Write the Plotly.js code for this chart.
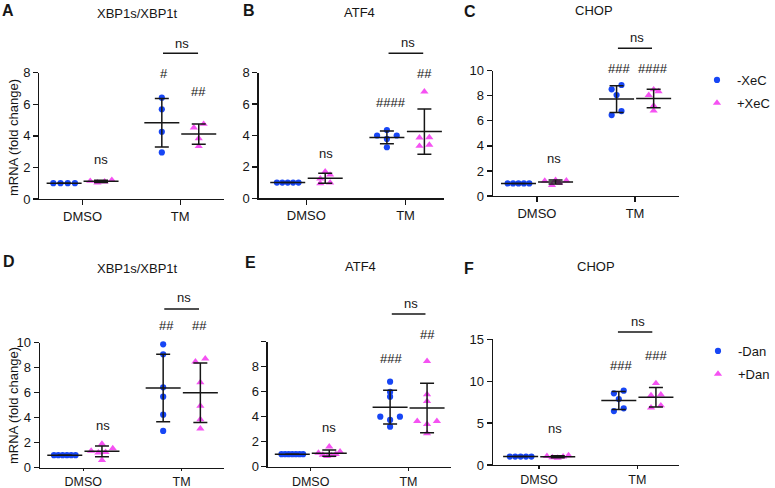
<!DOCTYPE html>
<html><head><meta charset="utf-8">
<script src="https://cdn.plot.ly/plotly-3.0.1.min.js"></script>
<style>html,body{margin:0;padding:0;background:#fff}#chart{width:775px;height:488px}</style>
</head><body><div id="chart"></div>
<script>
// ---------------- DATA ----------------
const categories = ['DMSO', 'TM'];
const topSeries = ['-XeC', '+XeC'];
const bottomSeries = ['-Dan', '+Dan'];
const panelLetters = ['A', 'B', 'C', 'D', 'E', 'F'];
const panelTitles = ['XBP1s/XBP1t', 'ATF4', 'CHOP', 'XBP1s/XBP1t', 'ATF4', 'CHOP'];
const yAxisTitle = 'mRNA (fold change)';

// Panel A: XBP1s/XBP1t, -XeC / +XeC
const aDmsoMinus = [1, 1, 1, 1];
const aDmsoPlus = [1.04, 1.2, 1.1, 1.14];
const aTmMinus = [6.42, 5.68, 4.26, 2.95];
const aTmPlus = [4.52, 4.75, 3.84, 3.34];
const aSig = ['ns', '#', '##', 'ns'];

// Panel B: ATF4, -XeC / +XeC
const bDmsoMinus = [1, 1, 1, 1, 1];
const bDmsoPlus = [1.7, 1.5, 1.25, 1.0, 0.95];
const bTmMinus = [4.35, 4.0, 4.0, 3.78, 3.25];
const bTmPlus = [6.79, 3.88, 3.86, 3.40, 3.33];
const bSig = ['ns', '####', '##', 'ns'];

// Panel C: CHOP, -XeC / +XeC
const cDmsoMinus = [1, 1, 1, 1, 1];
const cDmsoPlus = [1.26, 1.22, 1.05, 1.21, 0.87];
const cTmMinus = [8.86, 8.51, 8.06, 6.78, 6.46];
const cTmPlus = [8.5, 8.35, 8.05, 7.2, 6.8];
const cSig = ['ns', '###', '####', 'ns'];

// Panel D: XBP1s/XBP1t, -Dan / +Dan
const dDmsoMinus = [1, 1, 1, 1, 1, 1];
const dDmsoPlus = [1.9, 1.55, 1.35, 1.25, 1.2, 0.6];
const dTmMinus = [9.87, 9.07, 6.43, 5.68, 4.24, 2.94];
const dTmPlus = [8.72, 8.48, 6.83, 4.94, 3.87, 3.12];
const dSig = ['ns', '##', '##', 'ns'];

// Panel E: ATF4, -Dan / +Dan
const eDmsoMinus = [1, 1, 1, 1, 1, 1, 1];
const eDmsoPlus = [1.6, 1.2, 1.1, 1.0, 0.9, 0.85, 0.95];
const eTmMinus = [6.8, 5.98, 5.6, 4.0, 4.0, 3.74, 3.2];
const eTmPlus = [8.45, 5.79, 5.25, 3.65, 3.65, 3.41, 2.67];
const eSig = ['ns', '###', '##', 'ns'];

// Panel F: CHOP, -Dan / +Dan
const fDmsoMinus = [1, 1, 1, 1, 1];
const fDmsoPlus = [0.85, 1.15, 1.0, 1.05, 0.9];
const fTmMinus = [8.87, 8.55, 7.87, 6.76, 6.44];
const fTmPlus = [9.75, 8.4, 8.3, 7.1, 6.85];
const fSig = ['ns', '###', '###', 'ns'];

// y-axis ticks
const yTicks8 = [0, 2, 4, 6, 8];
const yTicks10 = [0, 2, 4, 6, 8, 10];
const yTicksE = [0, 2, 4, 6, 8, 10];
const yTickTextE = ['0', '2', '4', '6', '8', ''];
const yTicks15 = [0, 5, 10, 15];

// ---------------- LAYOUT / STYLE ----------------
const W = 775, H = 488;
const PX = v => v / W;
const PY = v => 1 - v / H;
const FONT = 'Liberation Sans, Arial, Helvetica, sans-serif';
const INK = '#161616';
const BLUE = '#1746f5';
const PINK = '#f552f2';

const panels = [
  {vals: [aDmsoMinus, aDmsoPlus, aTmMinus, aTmPlus], sig: aSig, ticks: yTicks8, tickText: yTicks8.map(String), ymax: 8,
   x0: 40, x1: 228, cD: 84, cT: 183.5, yTop: 72.7, yBot: 199, series: topSeries, legend: 'legend', showLeg: false, xlen: 5, xfs: 13,
   title: [140, 13], letter: [8.5, 10.5], nsD: [103, 160], sigM: [167, 73], sigP: [202.5, 91.2], nsT: [185.8, 43], bar: [166, 201.7, 53.3]},
  {vals: [bDmsoMinus, bDmsoPlus, bTmMinus, bTmPlus], sig: bSig, ticks: yTicks8, tickText: yTicks8.map(String), ymax: 8,
   x0: 263.3, x1: 451.7, cD: 312, cT: 413, yTop: 72.7, yBot: 198.3, series: topSeries, legend: 'legend', showLeg: false, xlen: 5, xfs: 13,
   title: [366, 12], letter: [254, 10.5], nsD: [331.7, 153], sigM: [397.8, 102.3], sigP: [432, 73], nsT: [415.5, 42.6], bar: [395.7, 431, 53.3]},
  {vals: [cDmsoMinus, cDmsoPlus, cTmMinus, cTmPlus], sig: cSig, ticks: yTicks10, tickText: yTicks10.map(String), ymax: 10,
   x0: 502, x1: 691.7, cD: 546.8, cT: 646.7, yTop: 70.7, yBot: 196, series: topSeries, legend: 'legend', showLeg: true, xlen: 5, xfs: 13,
   title: [605, 10.5], letter: [479, 11], nsD: [564, 158.3], sigM: [630.5, 68.3], sigP: [664.7, 68.3], nsT: [649.2, 37.5], bar: [629.3, 664, 48.3]},
  {vals: [dDmsoMinus, dDmsoPlus, dTmMinus, dTmPlus], sig: dSig, ticks: yTicks10, tickText: yTicks10.map(String), ymax: 10,
   x0: 40.7, x1: 228, cD: 84.8, cT: 185, yTop: 342.7, yBot: 467.7, series: bottomSeries, legend: 'legend2', showLeg: false, xlen: 2, xfs: 12.5,
   title: [140.5, 268], letter: [8.7, 261], nsD: [105, 425.5], sigM: [169.2, 325.8], sigP: [202.8, 325.8], nsT: [187.2, 297.8], bar: [167.3, 202.7, 309]},
  {vals: [eDmsoMinus, eDmsoPlus, eTmMinus, eTmPlus], sig: eSig, ticks: yTicksE, tickText: yTickTextE, ymax: 10,
   x0: 272.7, x1: 459, cD: 316.4, cT: 416, yTop: 341.7, yBot: 466.7, series: bottomSeries, legend: 'legend2', showLeg: false, xlen: 3, xfs: 12.5,
   title: [367.5, 266.7], letter: [255, 262], nsD: [335, 427], sigM: [397.8, 358], sigP: [435.5, 334.7], nsT: [418.8, 303], bar: [399, 433.3, 314]},
  {vals: [fDmsoMinus, fDmsoPlus, fTmMinus, fTmPlus], sig: fSig, ticks: yTicks15, tickText: yTicks15.map(String), ymax: 15,
   x0: 502, x1: 691.7, cD: 549, cT: 649, yTop: 339.3, yBot: 465, series: bottomSeries, legend: 'legend2', showLeg: true, xlen: 3, xfs: 12.5,
   title: [607, 266.7], letter: [478, 268], nsD: [565, 428], sigM: [632.2, 365.8], sigP: [667.7, 355], nsT: [649.3, 321], bar: [629.3, 664.3, 332]}
];

const SUB = [-0.188, 0.19];   // sub-column offset (x units) for minus / plus
const TOL = 4.6, MAXSTEP = 10, SPAN = 22;

function mean(a) { return a.reduce((s, v) => s + v, 0) / a.length; }
function sd(a) { const m = mean(a); return Math.sqrt(a.reduce((s, v) => s + (v - m) * (v - m), 0) / (a.length - 1)); }

// Prism-like horizontal spreading of points with close values (pixel based)
function spread(vals, pyu, pxu) {
  const idx = vals.map((v, i) => i).sort((a, b) => vals[a] - vals[b]);
  const rows = []; let cur = null;
  idx.forEach(i => {
    if (cur && (vals[i] - vals[cur[0]]) * pyu <= TOL) cur.push(i);
    else { cur = [i]; rows.push(cur); }
  });
  const off = new Array(vals.length).fill(0);
  rows.forEach(r => {
    const n = r.length; if (n === 1) return;
    const s = Math.min(MAXSTEP, SPAN / (n - 1));
    const slots = [];
    for (let k = 0; k < n; k++) slots.push((k - (n - 1) / 2) * s);
    slots.sort((a, b) => Math.abs(a) - Math.abs(b) || a - b);
    r.forEach((i, j) => { off[i] = slots[j] / pxu; });
  });
  return off;
}

const traces = [];
const layout = {
  width: W, height: H, margin: {l: 0, r: 0, t: 0, b: 0},
  paper_bgcolor: '#fff', plot_bgcolor: 'rgba(0,0,0,0)',
  font: {family: FONT, color: INK, size: 13},
  showlegend: true, annotations: [], shapes: []
};

panels.forEach((p, k) => {
  const n = k === 0 ? '' : String(k + 1);
  const xa = 'x' + n, ya = 'y' + n;
  const pxu = p.cT - p.cD;                       // px per x unit
  const pyu = (p.yBot - p.yTop) / p.ymax;        // px per y unit
  layout['xaxis' + n] = {
    domain: [PX(p.x0), PX(p.x1)], range: [-(p.cD - p.x0) / pxu, (p.x1 - p.cD) / pxu], anchor: ya,
    showline: true, linecolor: INK, linewidth: 1.3, ticks: 'outside', ticklen: p.xlen, tickwidth: 1.3, tickcolor: INK,
    tickvals: [0, 1], ticktext: categories, showgrid: false, zeroline: false, fixedrange: true,
    tickfont: {size: p.xfs, family: FONT, color: INK}
  };
  layout['yaxis' + n] = {
    domain: [PY(p.yBot), PY(p.yTop)], range: [0, p.ymax], anchor: xa,
    showline: true, linecolor: INK, linewidth: 1.3, ticks: 'outside', ticklen: 5, tickwidth: 1.3, tickcolor: INK,
    tickvals: p.ticks, ticktext: p.tickText, showgrid: false, zeroline: false, fixedrange: true,
    tickfont: {size: 13, family: FONT, color: INK}
  };
  // points
  p.vals.forEach((vals, g) => {
    const grp = g < 2 ? 0 : 1, sub = g % 2;
    const off = spread(vals, pyu, pxu);
    const isLeg = p.showLeg && grp === 1;
    traces.push({
      type: 'scatter', mode: 'markers', xaxis: xa, yaxis: ya,
      x: vals.map((v, i) => grp + SUB[sub] + off[i]), y: vals,
      name: p.series[sub], legend: p.legend, showlegend: isLeg, legendgroup: p.legend + sub,
      marker: sub === 0 ? {symbol: 'circle', size: 6.2, color: BLUE}
                        : {symbol: 'triangle-up', size: 7.2, color: PINK},
      cliponaxis: false, hoverinfo: 'skip'
    });
  });
  // mean +/- SD
  p.vals.forEach((vals, g) => {
    const grp = g < 2 ? 0 : 1, sub = g % 2;
    traces.push({
      type: 'scatter', mode: 'markers', xaxis: xa, yaxis: ya, showlegend: false,
      x: [grp + SUB[sub]], y: [mean(vals)],
      marker: {symbol: 'line-ew', size: 25, color: INK, line: {width: 1.5, color: INK}},
      error_y: {type: 'data', array: [sd(vals)], visible: true, width: 7, thickness: 1.5, color: INK},
      cliponaxis: false, hoverinfo: 'skip'
    });
  });
  const ann = (xy, text, size, bold) => layout.annotations.push({
    xref: 'paper', yref: 'paper', x: PX(xy[0]), y: PY(xy[1]), text: bold ? '<b>' + text + '</b>' : text,
    showarrow: false, xanchor: 'center', yanchor: 'middle', font: {size: size, family: FONT, color: INK}
  });
  ann(p.title, panelTitles[k], 13, false);
  ann(p.letter, panelLetters[k], 16, true);
  ann(p.nsD, p.sig[0], 13, false);
  ann(p.sigM, p.sig[1], 13, false);
  ann(p.sigP, p.sig[2], 13, false);
  ann(p.nsT, p.sig[3], 13, false);
  layout.shapes.push({type: 'line', xref: 'paper', yref: 'paper', x0: PX(p.bar[0]), x1: PX(p.bar[1]),
    y0: PY(p.bar[2]), y1: PY(p.bar[2]), line: {color: INK, width: 1.5}});
});

// y-axis titles (left column)
[[13.3, 138], [13.3, 406]].forEach(c => layout.annotations.push({
  xref: 'paper', yref: 'paper', x: PX(c[0]), y: PY(c[1]), text: yAxisTitle, textangle: -90,
  showarrow: false, xanchor: 'center', yanchor: 'middle', font: {size: 13, family: FONT, color: INK}
}));

const legStyle = {xanchor: 'left', yanchor: 'top', font: {size: 13, family: FONT, color: INK},
  bgcolor: 'rgba(0,0,0,0)', borderwidth: 0, itemwidth: 30, traceorder: 'grouped', tracegroupgap: 3};
layout.legend = Object.assign({x: PX(710), y: PY(65)}, legStyle);
layout.legend2 = Object.assign({x: PX(711), y: PY(336)}, legStyle);

Plotly.newPlot('chart', traces, layout, {displayModeBar: false, staticPlot: true});
</script>
</body></html>
